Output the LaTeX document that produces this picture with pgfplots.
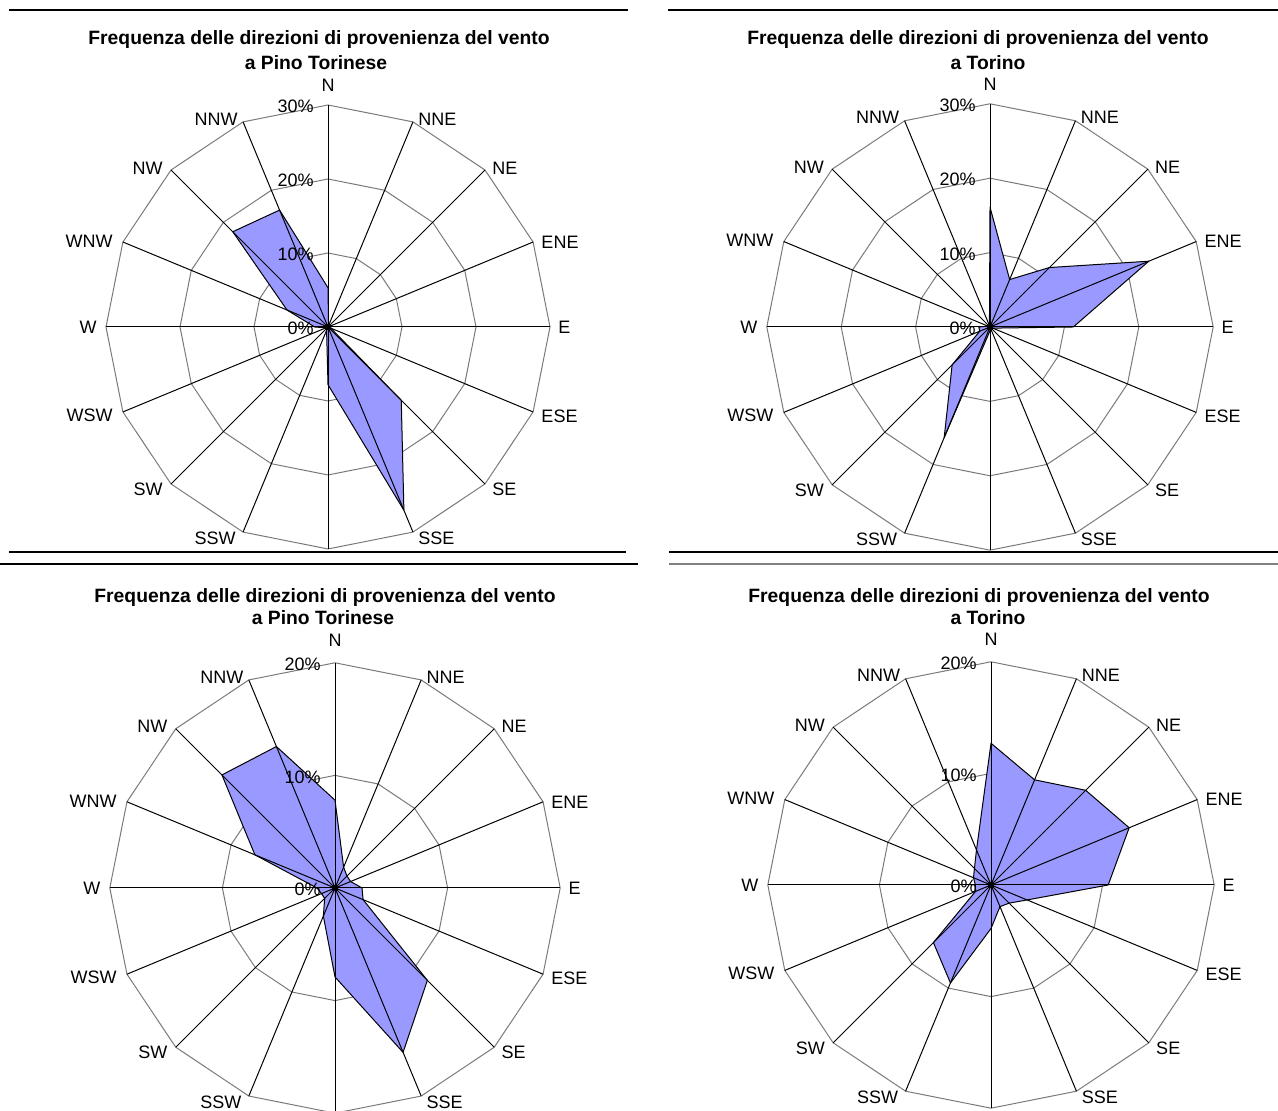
\documentclass[border=0pt]{standalone}
\usepackage{fontspec}
\setmainfont{Liberation Sans}
\usepackage{pgfplots}
\pgfplotsset{compat=1.18}
\usepackage{pgfplotstable}

\definecolor{roseblue}{HTML}{9999FF}
\definecolor{ringgray}{HTML}{7A7A7A}

\newcommand\labfont{\fontsize{9pt}{10pt}\selectfont}
\newcommand\titfont{\fontsize{9.65pt}{11pt}\selectfont\bfseries}

% bearings of the sixteen sectors, ring closed on north (unit radius)
\pgfplotstableread{
b r
0 1
22.5 1
45 1
67.5 1
90 1
112.5 1
135 1
157.5 1
180 1
202.5 1
225 1
247.5 1
270 1
292.5 1
315 1
337.5 1
360 1
}\bearings

% frequency (%) per direction of origin, bearing in degrees clockwise from north
\pgfplotstableread{
b v
0 5.3
22.5 0.2
45 0.2
67.5 0.2
90 0.3
112.5 0.4
135 14.0
157.5 26.8
180 7.8
202.5 0.5
225 0.3
247.5 0.3
270 1.8
292.5 6.0
315 18.2
337.5 17.1
360 5.3
}\pinoA

\pgfplotstableread{
b v
0 16.1
22.5 6.9
45 11.3
67.5 23.1
90 11.2
112.5 0.4
135 0.3
157.5 0.3
180 0.5
202.5 16.1
225 7.2
247.5 1.5
270 1.5
292.5 0.3
315 0.2
337.5 0.2
360 16.1
}\torinoA

\pgfplotstableread{
b v
0 7.8
22.5 2.0
45 1.5
67.5 1.5
90 2.4
112.5 2.7
135 11.6
157.5 15.8
180 7.9
202.5 2.7
225 1.3
247.5 1.3
270 1.6
292.5 7.7
315 14.2
337.5 13.6
360 7.8
}\pinoB

\pgfplotstableread{
b v
0 12.7
22.5 10.2
45 12.0
67.5 13.4
90 10.5
112.5 3.5
135 2.3
157.5 2.1
180 3.9
202.5 9.5
225 7.3
247.5 1.5
270 1.4
292.5 1.7
315 2.1
337.5 3.4
360 12.7
}\torinoB

\pgfplotsset{
  ring/.style={ringgray, line width=0.5pt, no marks},
  rosefill/.style={fill=roseblue, draw=black, line width=0.5pt, line join=round, no marks},
}
\tikzset{
  spoke/.style={black, line width=0.5pt},
  lab/.style={font=\labfont, inner sep=0pt},
}

% #1 centre coordinate, #2 length of 1 %, #3 outer ring (%), #4 data table, #5 gap above N
\newcommand{\rose}[5]{%
\begin{axis}[at={(#1)}, anchor=origin, x=#2, y=#2,
  xmin=-#3, xmax=#3, ymin=-#3, ymax=#3, hide axis, clip=false]
  \pgfplotsinvokeforeach{10,20,...,#3}{%
    \addplot[ring] table[x expr={##1*\thisrow{r}*sin(\thisrow{b})}, y expr={##1*\thisrow{r}*cos(\thisrow{b})}] {\bearings};
  }
  \addplot[rosefill] table[x expr={\thisrow{v}*sin(\thisrow{b})}, y expr={\thisrow{v}*cos(\thisrow{b})}] {#4} -- cycle;
  \pgfplotsinvokeforeach{0,22.5,45,67.5,90,112.5,135,157.5,180,202.5,225,247.5,270,292.5,315,337.5}{%
    \draw[spoke] (axis cs:0,0) -- (axis cs:{#3*sin(##1)},{#3*cos(##1)});
  }
  \addplot[only marks, mark=*, mark size=1.4pt, black] coordinates {(0,0)};
  \pgfplotsinvokeforeach{0,10,...,#3}{%
    \node[lab, anchor=east] at (axis cs:0,##1) [xshift=-7pt, yshift=-0.8pt] {##1\%};
  }
  \node[lab, anchor=south] at (axis cs:0,#3) [yshift=#5] {N};
  \node[lab, anchor=west] at (axis cs:{#3*sin(22.5)},{#3*cos(22.5)}) [xshift=2.5pt, yshift=1.5pt] {NNE};
  \node[lab, anchor=west] at (axis cs:{#3*sin(45)},{#3*cos(45)}) [xshift=3.5pt, yshift=1pt] {NE};
  \node[lab, anchor=west] at (axis cs:{#3*sin(67.5)},{#3*cos(67.5)}) [xshift=4pt, yshift=0pt] {ENE};
  \node[lab, anchor=west] at (axis cs:{#3*sin(90)},{#3*cos(90)}) [xshift=4pt] {E};
  \node[lab, anchor=west] at (axis cs:{#3*sin(112.5)},{#3*cos(112.5)}) [xshift=4pt, yshift=-2pt] {ESE};
  \node[lab, anchor=west] at (axis cs:{#3*sin(135)},{#3*cos(135)}) [xshift=3.5pt, yshift=-2.5pt] {SE};
  \node[lab, anchor=west] at (axis cs:{#3*sin(157.5)},{#3*cos(157.5)}) [xshift=2.5pt, yshift=-3pt] {SSE};
  \node[lab, anchor=east] at (axis cs:{#3*sin(202.5)},{#3*cos(202.5)}) [xshift=-3.5pt, yshift=-3pt] {SSW};
  \node[lab, anchor=east] at (axis cs:{#3*sin(225)},{#3*cos(225)}) [xshift=-4pt, yshift=-2.5pt] {SW};
  \node[lab, anchor=east] at (axis cs:{#3*sin(247.5)},{#3*cos(247.5)}) [xshift=-5pt, yshift=-1.5pt] {WSW};
  \node[lab, anchor=east] at (axis cs:{#3*sin(270)},{#3*cos(270)}) [xshift=-4.5pt] {W};
  \node[lab, anchor=east] at (axis cs:{#3*sin(292.5)},{#3*cos(292.5)}) [xshift=-5pt, yshift=0.5pt] {WNW};
  \node[lab, anchor=east] at (axis cs:{#3*sin(315)},{#3*cos(315)}) [xshift=-4pt, yshift=1pt] {NW};
  \node[lab, anchor=east] at (axis cs:{#3*sin(337.5)},{#3*cos(337.5)}) [xshift=-2.5pt, yshift=1.5pt] {NNW};
\end{axis}}

\begin{document}
\begin{tikzpicture}[x=0.5pt, y=0.5pt]
\path[use as bounding box] (0,0) rectangle (1278,1111);

% frame rules between the four charts
\draw[black, line width=0.6pt] (9,1101) -- (628,1101);
\draw[black, line width=0.6pt] (668,1101) -- (1278,1101);
\draw[black, line width=0.6pt] (9,559) -- (626,559);
\draw[black, line width=0.6pt] (669,559) -- (1278,559);
\draw[black, line width=0.6pt] (0,547) -- (638,547);
\draw[gray, line width=0.6pt] (669,547) -- (1278,547);

% chart centres
\coordinate (cA) at (328,784);
\coordinate (cB) at (990,784);
\coordinate (cC) at (335,223);
\coordinate (cD) at (991,226);

\rose{cA}{3.7pt}{30}{\pinoA}{6.5pt}
\rose{cB}{3.72pt}{30}{\torinoA}{6.5pt}
\rose{cC}{5.63pt}{20}{\pinoB}{8pt}
\rose{cD}{5.58pt}{20}{\torinoB}{8pt}

\node[font=\titfont, anchor=base] at (319,1066) {Frequenza delle direzioni di provenienza del vento};
\node[font=\titfont, anchor=base] at (316,1041) {a Pino Torinese};
\node[font=\titfont, anchor=base] at (978,1066) {Frequenza delle direzioni di provenienza del vento};
\node[font=\titfont, anchor=base] at (988,1041) {a Torino};
\node[font=\titfont, anchor=base] at (325,508) {Frequenza delle direzioni di provenienza del vento};
\node[font=\titfont, anchor=base] at (323,486) {a Pino Torinese};
\node[font=\titfont, anchor=base] at (979,508) {Frequenza delle direzioni di provenienza del vento};
\node[font=\titfont, anchor=base] at (988,486) {a Torino};
\end{tikzpicture}
\end{document}
